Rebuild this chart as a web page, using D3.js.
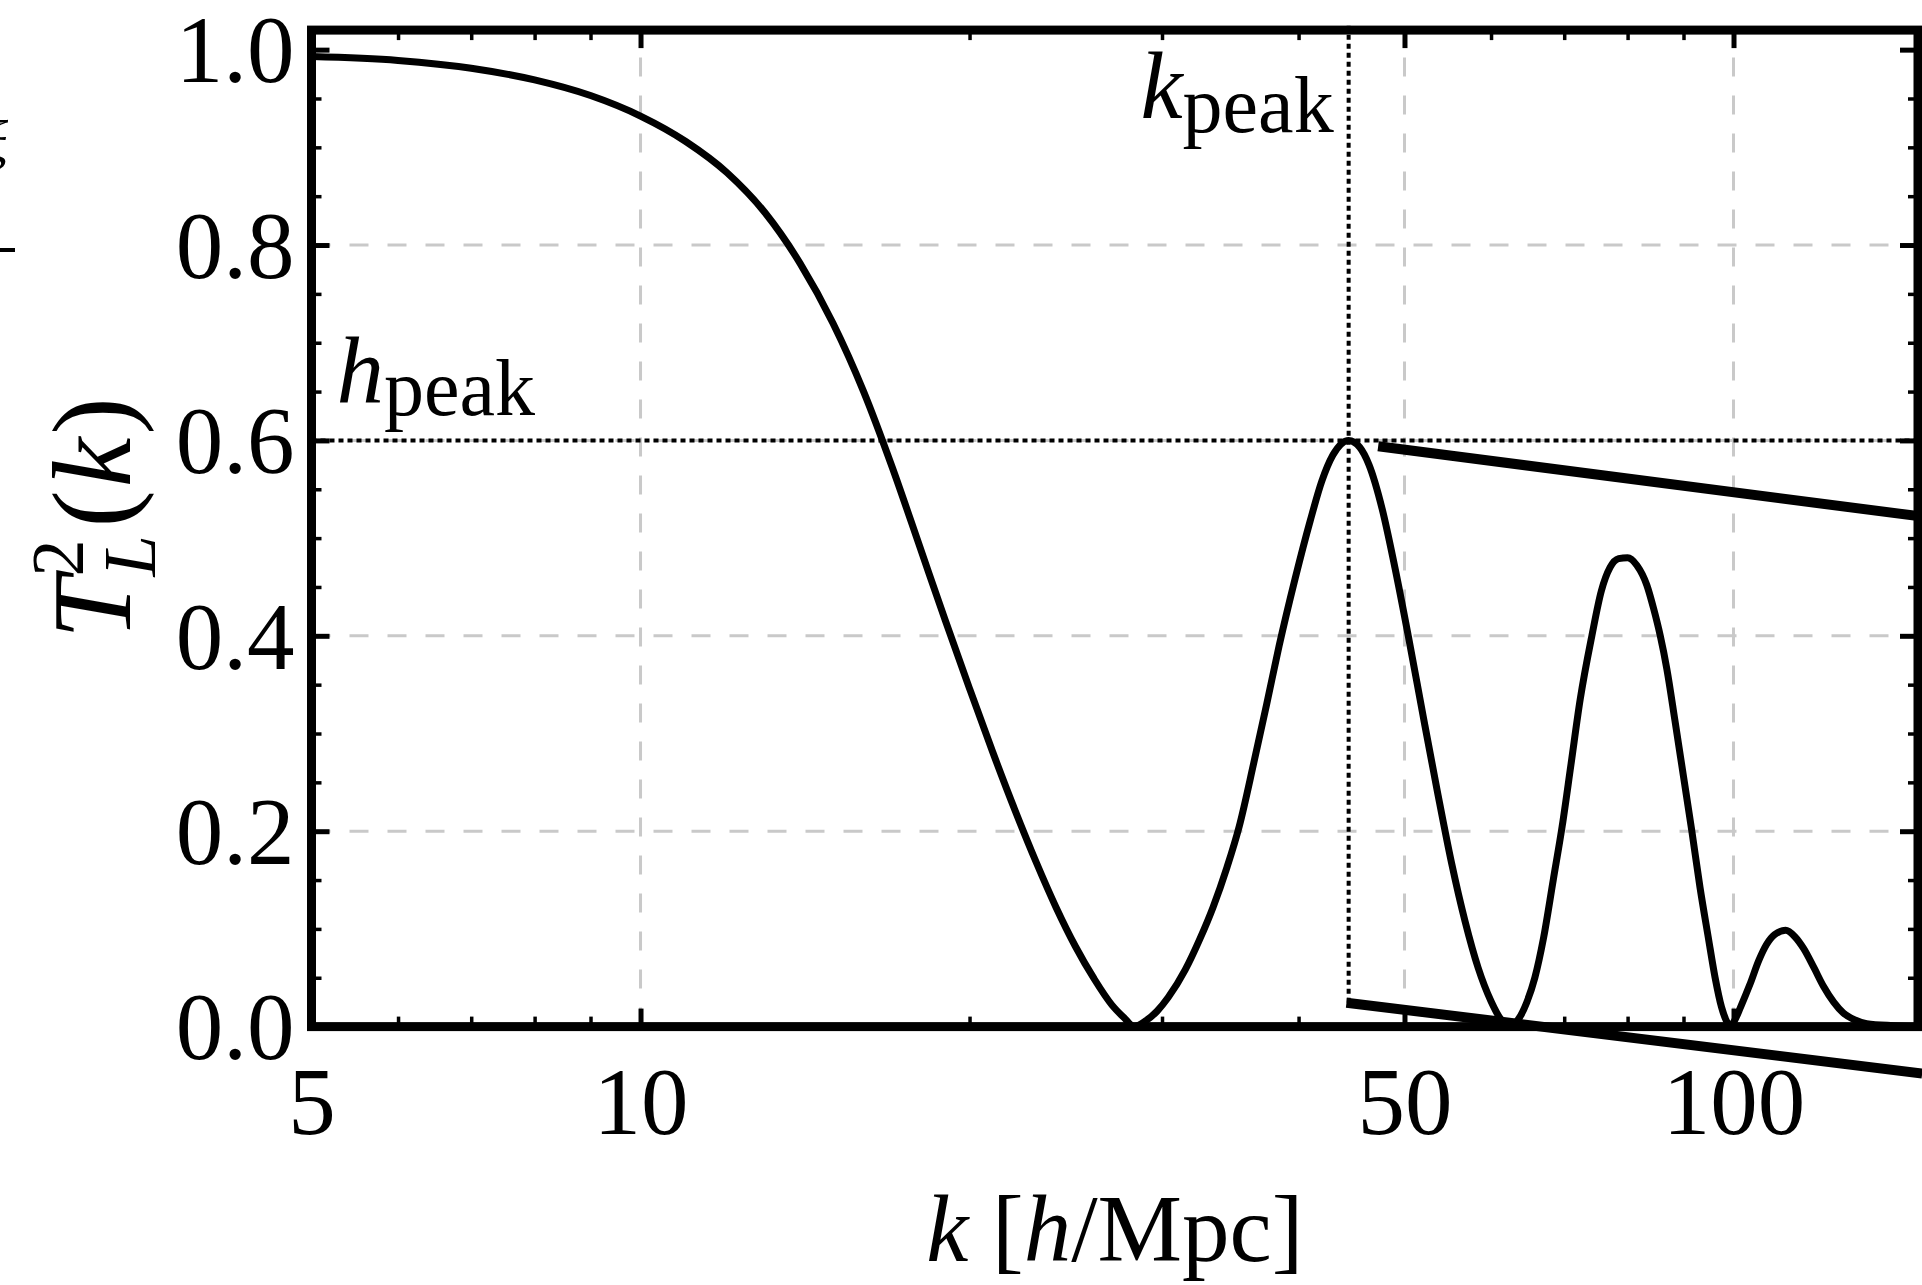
<!DOCTYPE html>
<html>
<head>
<meta charset="utf-8">
<script src="https://cdn.jsdelivr.net/npm/d3@7"></script>
<style>
  html, body { margin: 0; padding: 0; background: #ffffff; }
  svg { display: block; }
  text { font-family: "Liberation Serif", "DejaVu Serif", serif; fill: #000; }
</style>
</head>
<body>
<svg id="chart" width="1922" height="1285"></svg>
<script>
// Squared linear transfer function T_L^2(k) against wavenumber k [h/Mpc]
const kValues = [
  5.0, 6.0, 7.0, 8.0, 9.0, 10.0, 11.0, 12.0, 13.0, 14.0, 15.0, 16.0, 17.0, 18.0, 19.0, 20.0,
  21.0, 22.0, 23.0, 24.0, 25.0, 26.0, 27.0, 27.7, 28.3, 29.0, 29.7, 30.4, 31.5, 32.5, 33.4,
  34.4, 35.3, 36.4, 37.4, 38.4, 39.7, 41.0, 42.0, 43.0, 44.45, 45.5, 46.4, 47.7, 49.0, 50.4,
  52.0, 53.6, 55.2, 56.8, 58.4, 60.0, 61.3, 62.5, 63.6, 64.7, 65.8, 67.0, 68.4, 69.7, 71.0,
  72.4, 74.2, 75.7, 77.1, 78.5, 80.0, 81.6, 83.3, 84.5, 85.7, 86.9, 88.4, 90.0, 91.6, 93.2,
  94.8, 96.2, 97.5, 98.5, 99.3, 100.2, 101.5, 103.5, 105.5, 107.2, 109.0, 111.6, 113.8, 115.9,
  118.5, 120.9, 123.5, 126.0, 129.0, 132.4, 140.0, 147.5
];
const t2Values = [
  0.993, 0.989, 0.981, 0.969, 0.953, 0.932, 0.906, 0.874, 0.833, 0.781, 0.720, 0.650, 0.572, 0.492, 0.416, 0.346,
  0.281, 0.222, 0.169, 0.122, 0.082, 0.049, 0.022, 0.009, 0.000, 0.006, 0.016, 0.030, 0.058, 0.090, 0.122,
  0.163, 0.205, 0.270, 0.330, 0.390, 0.458, 0.518, 0.558, 0.585, 0.600, 0.593, 0.575, 0.530, 0.470, 0.400,
  0.318, 0.240, 0.168, 0.108, 0.060, 0.026, 0.007, 0.000, 0.008, 0.025, 0.050, 0.090, 0.150, 0.205, 0.268,
  0.335, 0.400, 0.446, 0.470, 0.479, 0.480, 0.472, 0.452, 0.428, 0.400, 0.366, 0.313, 0.256, 0.200, 0.142,
  0.092, 0.050, 0.020, 0.006, 0.000, 0.006, 0.020, 0.043, 0.068, 0.084, 0.094, 0.0985, 0.092, 0.080,
  0.060, 0.041, 0.025, 0.014, 0.007, 0.003, 0.001, 0.000
];

// Peak markers
const kPeak = 44.45;
const hPeak = 0.6;

// Tick values and labels
const xMajorTicks = [5, 10, 50, 100];
const xTickLabels = ["5", "10", "50", "100"];
const xMinorTicks = [6, 7, 8, 9, 20, 30, 40, 60, 70, 80, 90];
const yMajorTicks = [0, 0.2, 0.4, 0.6, 0.8, 1.0];
const yTickLabels = ["0.0", "0.2", "0.4", "0.6", "0.8", "1.0"];
const yMinorTicks = [0.05, 0.1, 0.15, 0.25, 0.3, 0.35, 0.45, 0.5, 0.55, 0.65, 0.7, 0.75, 0.85, 0.9, 0.95];
const xGridTicks = [10, 50, 100];
const yGridTicks = [0.2, 0.4, 0.6, 0.8];

// Zoom connector segments leading off to the right, in data units
const upperConnector = [[47.3, 0.594], [148.8, 0.522]];
const lowerConnector = [[44.25, 0.0245], [148.8, -0.048]];

// Axis limits
const xDomain = [5, 147.5];
const yDomain = [0, 1.02];

// ---- layout ----
const plot = { left: 311.5, right: 1918, top: 30.1, bottom: 1026.6 };
const tickFont = 95;
const labelFont = 95;
const subFont = 80;
const yLabelFont = 112;
const scriptSize = 74;

const svg = d3.select("#chart");
svg.append("rect").attr("width", 1922).attr("height", 1285).attr("fill", "#fff");

const x = d3.scaleLog().domain(xDomain).range([plot.left, plot.right]);
const y = d3.scaleLinear().domain(yDomain).range([plot.bottom, plot.top]);

// grid
const grid = svg.append("g").attr("stroke", "#c9c9c9").attr("stroke-width", 3)
  .attr("stroke-dasharray", "19,19");
grid.selectAll("line.gx").data(xGridTicks).join("line").attr("class", "gx")
  .attr("x1", d => x(d)).attr("x2", d => x(d))
  .attr("y1", y(yDomain[0])).attr("y2", y(yDomain[1]));
grid.selectAll("line.gy").data(yGridTicks).join("line").attr("class", "gy")
  .attr("y1", d => y(d)).attr("y2", d => y(d))
  .attr("x1", x(xDomain[0])).attr("x2", x(xDomain[1]));

// dotted peak guides
const guides = svg.append("g").attr("stroke", "#000").attr("stroke-width", 4)
  .attr("stroke-dasharray", "5,4");
guides.append("line")
  .attr("x1", x(xDomain[0])).attr("x2", x(xDomain[1]))
  .attr("y1", y(hPeak)).attr("y2", y(hPeak));
guides.append("line")
  .attr("x1", x(kPeak)).attr("x2", x(kPeak))
  .attr("y1", y(lowerConnector[0][1])).attr("y2", y(1.028));

// curve
const points = kValues.map((k, i) => [k, t2Values[i]]);
const line = d3.line().x(d => x(d[0])).y(d => y(d[1])).curve(d3.curveMonotoneX);
svg.append("path").datum(points)
  .attr("d", line)
  .attr("fill", "none").attr("stroke", "#000").attr("stroke-width", 7)
  .attr("stroke-linejoin", "round").attr("stroke-linecap", "round");

// axes (ticks point inward on all four sides)
function styleAxis(g, width) {
  g.attr("font-size", null).attr("font-family", null);
  g.select(".domain").remove();
  g.selectAll(".tick line").attr("stroke", "#000").attr("stroke-width", width);
  g.selectAll(".tick text").attr("font-size", tickFont).attr("fill", "#000");
}
const majorLen = -18, minorLen = -10, majorW = 5, minorW = 3.5;
const axes = svg.append("g");
axes.append("g").attr("transform", `translate(0,${plot.bottom})`)
  .call(d3.axisBottom(x).tickValues(xMajorTicks).tickFormat((d, i) => xTickLabels[i])
    .tickSizeInner(majorLen).tickSizeOuter(0).tickPadding(40))
  .call(g => styleAxis(g, majorW));
axes.append("g").attr("transform", `translate(0,${plot.bottom})`)
  .call(d3.axisBottom(x).tickValues(xMinorTicks).tickFormat("").tickSizeInner(minorLen).tickSizeOuter(0))
  .call(g => styleAxis(g, minorW));
axes.append("g").attr("transform", `translate(0,${plot.top})`)
  .call(d3.axisTop(x).tickValues(xMajorTicks).tickFormat("").tickSizeInner(majorLen).tickSizeOuter(0))
  .call(g => styleAxis(g, majorW));
axes.append("g").attr("transform", `translate(0,${plot.top})`)
  .call(d3.axisTop(x).tickValues(xMinorTicks).tickFormat("").tickSizeInner(minorLen).tickSizeOuter(0))
  .call(g => styleAxis(g, minorW));
axes.append("g").attr("transform", `translate(${plot.left},0)`)
  .call(d3.axisLeft(y).tickValues(yMajorTicks).tickFormat((d, i) => yTickLabels[i])
    .tickSizeInner(majorLen).tickSizeOuter(0).tickPadding(17))
  .call(g => styleAxis(g, majorW))
  .call(g => g.selectAll(".tick text").attr("dy", "0.34em"));
axes.append("g").attr("transform", `translate(${plot.left},0)`)
  .call(d3.axisLeft(y).tickValues(yMinorTicks).tickFormat("").tickSizeInner(minorLen).tickSizeOuter(0))
  .call(g => styleAxis(g, minorW));
axes.append("g").attr("transform", `translate(${plot.right},0)`)
  .call(d3.axisRight(y).tickValues(yMajorTicks).tickFormat("").tickSizeInner(majorLen).tickSizeOuter(0))
  .call(g => styleAxis(g, majorW));
axes.append("g").attr("transform", `translate(${plot.right},0)`)
  .call(d3.axisRight(y).tickValues(yMinorTicks).tickFormat("").tickSizeInner(minorLen).tickSizeOuter(0))
  .call(g => styleAxis(g, minorW));

// frame
svg.append("rect")
  .attr("x", plot.left).attr("y", plot.top)
  .attr("width", plot.right - plot.left).attr("height", plot.bottom - plot.top)
  .attr("fill", "none").attr("stroke", "#000").attr("stroke-width", 9);

// connectors
svg.append("g").attr("stroke", "#000").attr("stroke-width", 10).attr("stroke-linecap", "butt")
  .selectAll("line").data([upperConnector, lowerConnector]).join("line")
  .attr("x1", d => x(d[0][0])).attr("y1", d => y(d[0][1]))
  .attr("x2", d => x(d[1][0])).attr("y2", d => y(d[1][1]));

// annotations
const hLab = svg.append("text")
  .attr("x", x(5.27)).attr("y", y(0.6385)).attr("font-size", labelFont);
hLab.append("tspan").attr("font-style", "italic").text("h");
hLab.append("tspan").attr("font-size", subFont).attr("dy", 12).text("peak");

const kLab = svg.append("text")
  .attr("x", x(kPeak) - 15).attr("y", y(0.930)).attr("font-size", labelFont)
  .attr("text-anchor", "end");
kLab.append("tspan").attr("font-style", "italic").text("k");
kLab.append("tspan").attr("font-size", subFont).attr("dy", 14).text("peak");

// x-axis label
const xLab = svg.append("text")
  .attr("x", (plot.left + plot.right) / 2).attr("y", 1261)
  .attr("font-size", labelFont).attr("text-anchor", "middle");
xLab.append("tspan").attr("font-style", "italic").text("k");
xLab.append("tspan").text(" [");
xLab.append("tspan").attr("font-style", "italic").text("h");
xLab.append("tspan").text("/Mpc]");

// y-axis label: T with stacked superscript 2 and subscript L, then (k)
const yLab = svg.append("text")
  .attr("transform", `translate(130,518) rotate(-90)`)
  .attr("font-size", yLabelFont).attr("text-anchor", "middle");
yLab.append("tspan").attr("font-style", "italic").text("T");
yLab.append("tspan").attr("font-size", scriptSize).attr("dy", -47).text("2");
yLab.append("tspan").attr("font-size", scriptSize).attr("font-style", "italic")
  .attr("dx", -scriptSize * 0.5).attr("dy", 72).text("L");
yLab.append("tspan").attr("dx", 8).attr("dy", -25).text("(");
yLab.append("tspan").attr("dx", 3).attr("font-style", "italic").text("k");
yLab.append("tspan").attr("dx", 3).text(")");

// fragments of the neighbouring panel at the left edge
svg.append("text").attr("x", 8).attr("y", 160).attr("font-size", 58)
  .attr("font-style", "italic").attr("text-anchor", "end").text("ξ");
svg.append("line").attr("x1", 0).attr("x2", 15).attr("y1", 250).attr("y2", 250)
  .attr("stroke", "#000").attr("stroke-width", 4);
</script>
</body>
</html>
